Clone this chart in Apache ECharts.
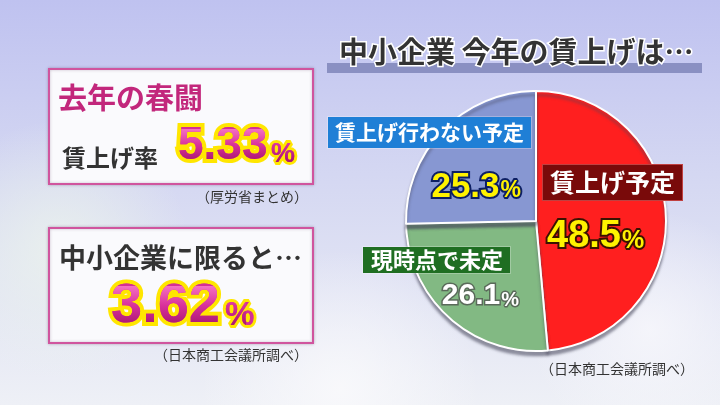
<!DOCTYPE html>
<html><head><meta charset="utf-8">
<script src="https://cdn.jsdelivr.net/npm/echarts@6/dist/echarts.min.js"></script>
<style>html,body{margin:0;padding:0;}#c{width:720px;height:405px;}</style>
</head><body><div id="c"></div>
<script>
// ---- data ----
const categories = ['賃上げ予定', '現時点で未定', '賃上げ行わない予定'];
const shares = [48.5, 26.1, 25.3];
const chartTitle = '中小企業 今年の賃上げは…';
const leftHeads = ['去年の春闘', '中小企業に限ると…'];
const leftSub = '賃上げ率';
const leftValues = [5.33, 3.62];
const sources = ['（厚労省まとめ）', '（日本商工会議所調べ）', '（日本商工会議所調べ）'];

// ---- styles ----
const JP = '"Noto Sans CJK JP"';
const NUM = '"Liberation Sans"';
const sliceColors = ['#ff1f1f', '#82b983', '#8797d2'];
const boxColors = ['#790a0a', '#1f6e22', '#1f7fd6'];
const valueStyles = [
  {color: '#fff200', textBorderColor: '#3a1200', textBorderWidth: 4},
  {color: '#ffffff', textBorderColor: '#5a6a5a', textBorderWidth: 3},
  {color: '#fff200', textBorderColor: '#0d1f63', textBorderWidth: 4}
];
const valueFont = [[38, 25], [30, 20], [35, 23]];
const valuePos = [ {x: 547, y: 237, align: 'left'}, {x: 519, y: 296, align: 'right'}, {x: 521, y: 187, align: 'right'} ];
const boxPos = [ {x: 543, y: 165, fs: 25, pad: [5, 7, 5, 7]}, {x: 363, y: 247, fs: 22, pad: [2, 7, 2, 8]}, {x: 328, y: 117, fs: 21, pad: [5, 7, 5, 7]} ];
// big number layout: [digitsX, digitsY, digitsFont, pctX, pctY, pctFont, gradTop, gradBottom]
const bigPos = [[178, 146, 46, 271, 155, 27, 129, 165], [111, 307, 56, 225, 316, 33, 286, 330]];

const chart = echarts.init(document.getElementById('c'));

const pieData = categories.map((n, i) => ({
  name: n, value: shares[i],
  itemStyle: {color: sliceColors[i]},
  label: Object.assign({
    rich: {
      v: {fontFamily: NUM, fontWeight: 'bold', fontSize: valueFont[i][0]},
      p: {fontFamily: NUM, fontWeight: 'bold', fontSize: valueFont[i][1], padding: [8, 0, 0, 1]}
    }
  }, valueStyles[i])
}));

const graphics = [
  // background
  {type: 'rect', z: -20, shape: {x: 0, y: 0, width: 720, height: 405}, style: {fill: new echarts.graphic.LinearGradient(0, 0, 0, 1, [
    {offset: 0, color: '#bfc2f0'}, {offset: 0.45, color: '#d5d8f2'}, {offset: 1, color: '#eef0f6'}])}},
  {type: 'circle', z: -19, shape: {cx: 60, cy: 250, r: 130}, style: {fill: new echarts.graphic.RadialGradient(0.5, 0.5, 0.5, [
    {offset: 0, color: 'rgba(236,244,236,0.8)'}, {offset: 1, color: 'rgba(236,244,236,0)'}])}},
  {type: 'circle', z: -19, shape: {cx: 340, cy: 390, r: 140}, style: {fill: new echarts.graphic.RadialGradient(0.5, 0.5, 0.5, [
    {offset: 0, color: 'rgba(250,250,252,0.85)'}, {offset: 1, color: 'rgba(250,250,252,0)'}])}},
  {type: 'circle', z: -19, shape: {cx: 650, cy: 330, r: 120}, style: {fill: new echarts.graphic.RadialGradient(0.5, 0.5, 0.5, [
    {offset: 0, color: 'rgba(248,248,252,0.8)'}, {offset: 1, color: 'rgba(248,248,252,0)'}])}},
  // title bar
  {type: 'rect', z: 5, shape: {x: 327, y: 63, width: 375, height: 10}, style: {fill: '#8a90c2'}},
  {type: 'text', z: 6, x: 339, y: 52, style: {text: chartTitle, font: 'bold 29px ' + JP, fill: '#333333',
    stroke: '#ffffff', lineWidth: 3, strokeFirst: true, verticalAlign: 'middle'}},
  // left boxes
  {type: 'rect', z: 5, shape: {x: 49, y: 69, width: 264, height: 115}, style: {fill: '#fafafd', stroke: '#d0559e', lineWidth: 2,
    shadowBlur: 3, shadowColor: 'rgba(80,40,80,0.3)'}},
  {type: 'rect', z: 5, shape: {x: 49, y: 228, width: 264, height: 115}, style: {fill: '#fafafd', stroke: '#d0559e', lineWidth: 2,
    shadowBlur: 3, shadowColor: 'rgba(80,40,80,0.3)'}},
  {type: 'text', z: 10, x: 58, y: 98, style: {text: leftHeads[0], font: 'bold 29px ' + JP, fill: '#c2277c', verticalAlign: 'middle'}},
  {type: 'text', z: 10, x: 62, y: 158, style: {text: leftSub, font: 'bold 24px ' + JP, fill: '#333333', verticalAlign: 'middle'}},
  {type: 'text', z: 10, x: 59, y: 258, style: {text: leftHeads[1], font: 'bold 27px ' + JP, fill: '#333333', verticalAlign: 'middle'}},
  // sources
  {type: 'text', z: 10, x: 308, y: 197, style: {text: sources[0], font: '14px ' + JP, fill: '#333333', align: 'right', verticalAlign: 'middle'}},
  {type: 'text', z: 10, x: 308, y: 355, style: {text: sources[1], font: '14px ' + JP, fill: '#333333', align: 'right', verticalAlign: 'middle'}},
  {type: 'text', z: 10, x: 694, y: 369, style: {text: sources[2], font: '14px ' + JP, fill: '#333333', align: 'right', verticalAlign: 'middle'}}
];

// big numbers: yellow outline layer (zlevel 0), magenta gradient fill layer (zlevel 1, composited with source-atop)
leftValues.forEach((v, i) => {
  const b = bigPos[i];
  const parts = [[v.toFixed(2), b[0], b[1], b[2], 8], ['%', b[3], b[4], b[5], 6]];
  parts.forEach(p => {
    graphics.push({type: 'text', z: 50, x: p[1], y: p[2], style: {text: p[0], font: 'bold ' + p[3] + 'px ' + NUM,
      fill: '#d42e96', stroke: '#ffe600', lineWidth: p[4], strokeFirst: true, verticalAlign: 'middle',
      shadowBlur: 2, shadowColor: 'rgba(190,110,0,0.9)'}});
    graphics.push({type: 'text', zlevel: 1, z: 50, x: p[1], y: p[2], style: {text: p[0], font: 'bold ' + p[3] + 'px ' + NUM,
      fill: '#d42e96', verticalAlign: 'middle'}});
  });
  graphics.push({type: 'rect', zlevel: 1, z: 60, shape: {x: b[0] - 5, y: b[6], width: 140, height: b[7] - b[6]},
    style: {blend: 'source-atop', fill: new echarts.graphic.LinearGradient(0, 0, 0, 1, [
      {offset: 0, color: '#f570c2'}, {offset: 0.45, color: '#d8309a'}, {offset: 1, color: '#9e1068'}])}});
});

// category label boxes
categories.forEach((n, i) => {
  const b = boxPos[i];
  graphics.push({type: 'text', z: 60, x: b.x, y: b.y, style: {text: n, font: 'bold ' + b.fs + 'px ' + JP, fill: '#ffffff',
    backgroundColor: boxColors[i], padding: b.pad, verticalAlign: 'top',
    borderColor: i === 0 ? '#c04040' : 'rgba(255,255,255,0.25)', borderWidth: 1}});
});

chart.setOption({
  animation: false,
  graphic: graphics,
  series: [{
    type: 'pie',
    center: [536, 221],
    radius: 130,
    startAngle: 90,
    clockwise: true,
    silent: true,
    z: 20,
    itemStyle: {borderColor: '#ffffff', borderWidth: 2, shadowBlur: 3, shadowOffsetY: 4, shadowColor: 'rgba(70,70,90,0.55)'},
    label: {show: true, position: 'inside', formatter: p => '{v|' + p.value + '}{p|%}'},
    labelLine: {show: false},
    labelLayout: p => Object.assign({verticalAlign: 'middle'}, valuePos[p.dataIndex]),
    emphasis: {disabled: true},
    data: pieData
  }]
});
</script></body></html>
